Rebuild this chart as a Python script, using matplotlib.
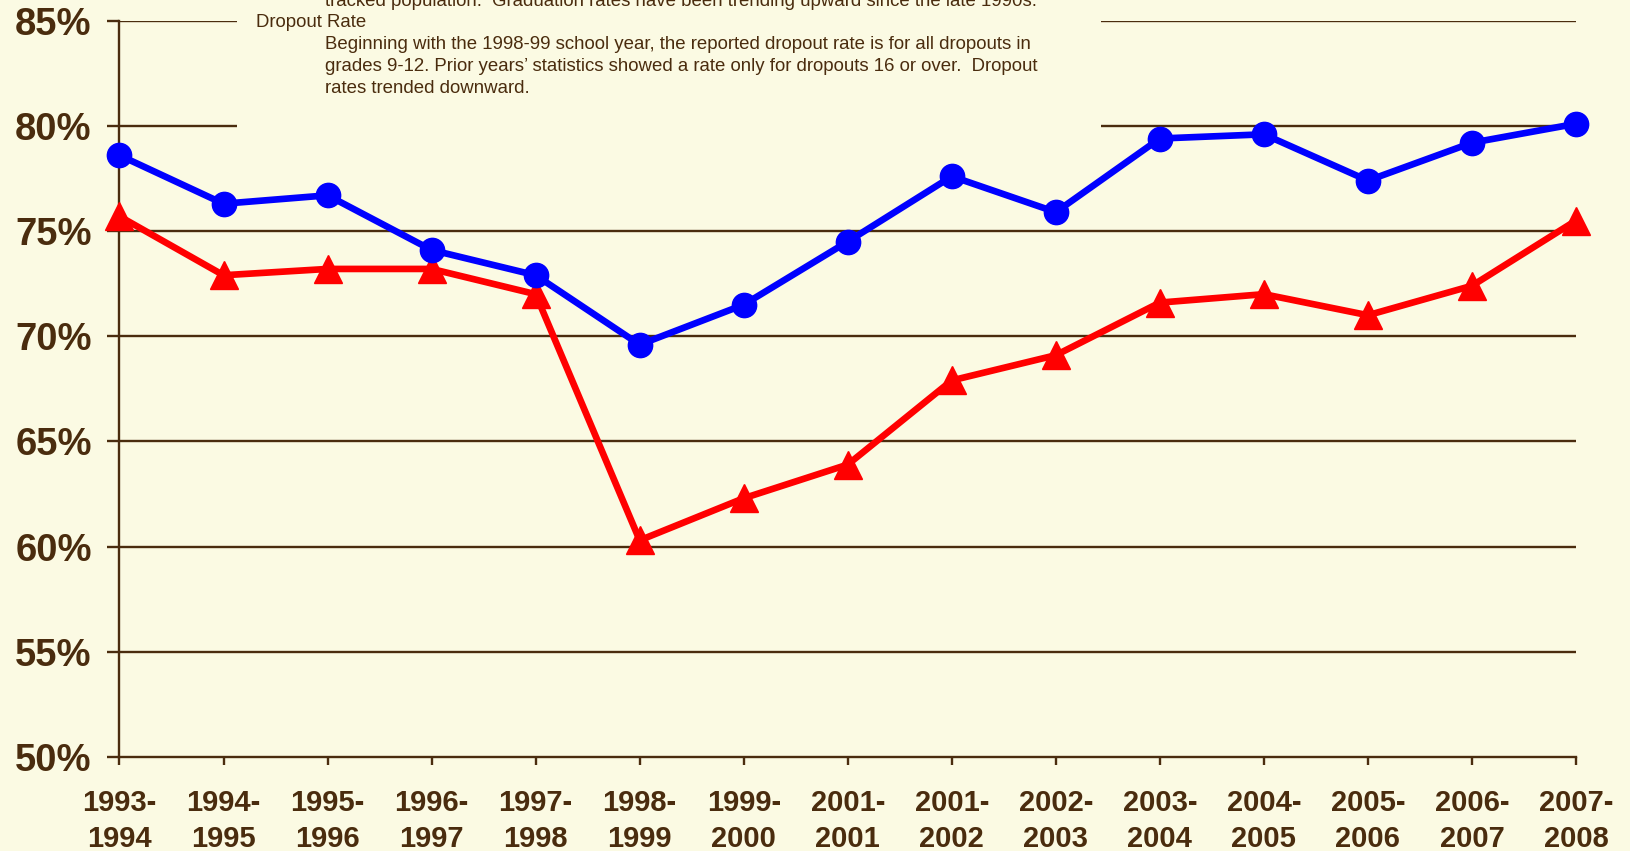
import matplotlib.pyplot as plt
from matplotlib.patches import Rectangle

# School years on the x axis (label typo "2001-2001" kept as in the source)
years = ["1993-\n1994", "1994-\n1995", "1995-\n1996", "1996-\n1997", "1997-\n1998",
         "1998-\n1999", "1999-\n2000", "2001-\n2001", "2001-\n2002", "2002-\n2003",
         "2003-\n2004", "2004-\n2005", "2005-\n2006", "2006-\n2007", "2007-\n2008"]

# percentages
blue_rate = [78.6, 76.3, 76.7, 74.1, 72.9, 69.6, 71.5, 74.5, 77.6, 75.9, 79.4, 79.6, 77.4, 79.2, 80.1]
red_rate = [75.7, 72.9, 73.2, 73.2, 72.0, 60.3, 62.3, 63.9, 67.9, 69.1, 71.6, 72.0, 71.0, 72.4, 75.5]

y_ticks = [50, 55, 60, 65, 70, 75, 80, 85]
y_tick_labels = ["50%", "55%", "60%", "65%", "70%", "75%", "80%", "85%"]

note_lines = [
    "tracked population.  Graduation rates have been trending upward since the late 1990s.",
    "Dropout Rate",
    "Beginning with the 1998-99 school year, the reported dropout rate is for all dropouts in",
    "grades 9-12. Prior years\u2019 statistics showed a rate only for dropouts 16 or over.  Dropout",
    "rates trended downward.",
]

BG = "#FBFAE3"
BROWN = "#4A2C0E"
W, H = 1630, 851

plt.rcParams["font.family"] = ["Liberation Sans", "DejaVu Sans"]

fig = plt.figure(figsize=(W / 100, H / 100), dpi=100, facecolor=BG)
ax = fig.add_axes([119.5 / W, 1 - 757 / H, (1576 - 119.5) / W, (757 - 20.7) / H])
ax.set_facecolor(BG)

x = list(range(len(years)))
for y in y_ticks[1:]:
    ax.axhline(y, color=BROWN, linewidth=1.7, zorder=1)

ax.plot(x, blue_rate, color="#0000FF", linewidth=4.8, marker="o", markersize=17.5,
        zorder=4, clip_on=False)
ax.plot(x, red_rate, color="#FF0000", linewidth=4.8, marker="^", markersize=20.5,
        zorder=3, clip_on=False)

ax.set_xlim(0, len(years) - 1)
ax.set_ylim(50, 85)
ax.set_yticks(y_ticks)
ax.set_yticklabels(y_tick_labels, fontsize=27.5, fontweight="bold", color=BROWN)
ax.set_xticks(x)
ax.set_xticklabels(years, fontsize=21, fontweight="bold", color=BROWN, linespacing=1.36)

ax.tick_params(axis="y", length=9, width=1.7, color=BROWN, pad=11)
ax.tick_params(axis="x", length=6, width=1.7, color=BROWN, pad=17)

for side in ["top", "right"]:
    ax.spines[side].set_visible(False)
for side in ["left", "bottom"]:
    ax.spines[side].set_color(BROWN)
    ax.spines[side].set_linewidth(1.7)

# note box covering the top gridlines
fig.patches.append(Rectangle((237 / W, 1 - 140 / H), (1101 - 237) / W, 140 / H,
                             transform=fig.transFigure, facecolor=BG, edgecolor="none",
                             zorder=2))

note_pos = [(325, 1), (256, 22.7), (325, 44.5), (325, 66.5), (325, 88.3)]
for (px, py), line in zip(note_pos, note_lines):
    fig.text(px / W, 1 - py / H, line, fontsize=13.4, color=BROWN,
             ha="left", va="center", zorder=3)

fig.savefig("out.png", dpi=100, facecolor=BG)
